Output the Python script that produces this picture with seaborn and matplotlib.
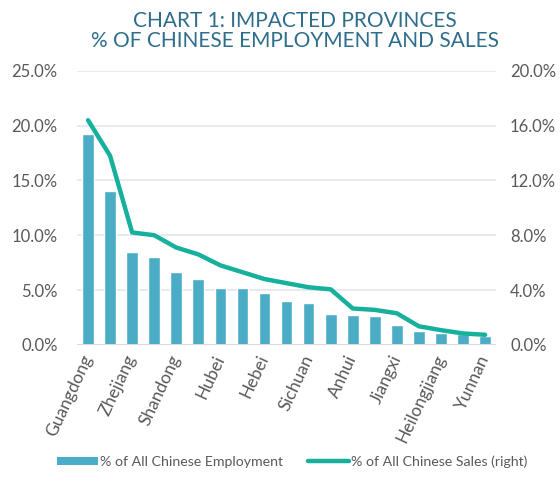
import matplotlib
matplotlib.use("Agg")
import matplotlib.pyplot as plt
import seaborn as sns
import pandas as pd
from matplotlib.ticker import PercentFormatter
from matplotlib.patches import Patch
from matplotlib.lines import Line2D

provinces = ['Guangdong', 'Jiangsu', 'Zhejiang', 'Shanghai', 'Shandong', 'Henan',
             'Hubei', 'Fujian', 'Hebei', 'Hunan', 'Sichuan', 'Beijing', 'Anhui',
             'Guangxi', 'Jiangxi', 'Shaanxi', 'Heilongjiang', 'Jilin', 'Yunnan']
employment = [19.2, 14.0, 8.5, 8.0, 6.6, 6.0, 5.2, 5.15, 4.7, 4.0, 3.8, 2.8, 2.7,
              2.6, 1.8, 1.3, 1.1, 1.0, 0.8]
sales = [16.4, 13.8, 8.2, 8.0, 7.1, 6.6, 5.8, 5.3, 4.8, 4.5, 4.2, 4.05, 2.65,
         2.55, 2.3, 1.35, 1.07, 0.83, 0.73]

bar_color = '#4BACC6'
line_color = '#16B09D'
text_grey = '#595959'

sns.set_style('white')
plt.rcParams['font.family'] = ['Lato', 'DejaVu Sans']

df = pd.DataFrame({'prov': provinces, 'emp': employment, 'sales': sales,
                   'pos': range(len(provinces))})

fig = plt.figure(figsize=(5.6, 4.99), dpi=100)
ax = fig.add_axes([0.1375, 0.309, 0.7485, 0.549])
sns.barplot(data=df, x='prov', y='emp', color=bar_color, width=0.53,
            saturation=1, ax=ax)
ax2 = ax.twinx()
sns.lineplot(data=df, x='pos', y='sales', color=line_color, linewidth=3.2,
             sort=False, ax=ax2)

ax.set_xlim(-0.5, len(provinces) - 0.5)
ax.set_ylim(0, 25)
ax2.set_ylim(0, 20)
ax.set_yticks([0, 5, 10, 15, 20, 25])
ax2.set_yticks([0, 4, 8, 12, 16, 20])
ax.yaxis.set_major_formatter(PercentFormatter(decimals=1))
ax2.yaxis.set_major_formatter(PercentFormatter(decimals=1))
ax.grid(axis='y', color='#E3E7EF', linewidth=1.2)
ax.set_axisbelow(True)

ticks = list(range(0, len(provinces), 2))
ax.set_xticks(ticks)
ax.set_xticklabels([provinces[i] for i in ticks], rotation=65, ha='right',
                   va='center', rotation_mode='anchor', fontsize=12.5,
                   color=text_grey)
for a in (ax, ax2):
    a.set_xlabel('')
    a.set_ylabel('')
    a.tick_params(axis='y', length=0, labelsize=12, labelcolor=text_grey)
    a.tick_params(axis='x', length=0)
    for s in a.spines.values():
        s.set_visible(False)
ax.tick_params(axis='y', pad=14)
ax2.tick_params(axis='y', pad=10)
ax.tick_params(axis='x', pad=8)
ax.axhline(0, color='#D9D9D9', linewidth=1.5, zorder=1)

fig.text(0.526, 0.978, 'CHART 1: IMPACTED PROVINCES\n% OF CHINESE EMPLOYMENT AND SALES',
         ha='center', va='top', fontsize=15, color='#2E6E8C', linespacing=0.98)

handles = [Patch(facecolor=bar_color, edgecolor='none'),
           Line2D([0], [0], color=line_color, linewidth=3.2)]
fig.legend(handles, ['% of All Chinese Employment', '% of All Chinese Sales (right)'],
           loc='center', bbox_to_anchor=(0.522, 0.075), ncol=2, frameon=False,
           fontsize=10.2, handlelength=2.9, handleheight=0.5, handletextpad=0.1,
           columnspacing=1.8, labelcolor=text_grey)

fig.savefig('out.png', dpi=100)
